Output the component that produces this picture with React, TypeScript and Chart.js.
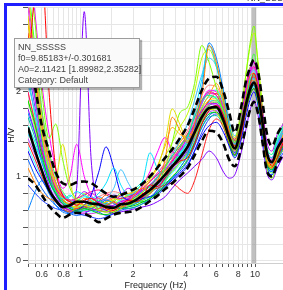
import React, { useEffect, useRef } from 'react';
import { Chart, registerables } from 'chart.js';

Chart.register(...registerables);

// ---- data ----
const FREQ = [0.5, 0.55, 0.6, 0.66, 0.72, 0.79, 0.87, 0.95, 1.05, 1.15, 1.27, 1.4, 1.55, 1.7, 1.88, 2.07, 2.28, 2.5, 2.75, 3.05, 3.35, 3.7, 4.1, 4.5, 4.95, 5.45, 6.0, 6.6, 7.1, 7.65, 8.25, 8.85, 9.4, 9.85, 10.4, 11.0, 11.7, 12.5, 13.4, 14.5];

const MEAN = [1.58, 1.30, 1.07, 0.84, 0.72, 0.64, 0.66, 0.70, 0.70, 0.68, 0.67, 0.64, 0.63, 0.67, 0.68, 0.72, 0.78, 0.84, 0.92, 1.02, 1.12, 1.22, 1.35, 1.52, 1.70, 1.81, 1.82, 1.66, 1.46, 1.33, 1.55, 1.85, 2.04, 2.11, 1.96, 1.65, 1.27, 1.17, 1.33, 1.45];
const STD_UP = [2.45, 2.05, 1.60, 1.30, 1.05, 0.92, 0.90, 0.93, 0.94, 0.92, 0.86, 0.80, 0.76, 0.78, 0.82, 0.86, 0.92, 1.00, 1.10, 1.22, 1.32, 1.45, 1.60, 1.80, 2.02, 2.16, 2.18, 2.00, 1.76, 1.52, 1.78, 2.12, 2.30, 2.38, 2.24, 1.90, 1.50, 1.36, 1.50, 1.62];
const STD_LOW = [0.98, 0.90, 0.78, 0.65, 0.57, 0.51, 0.55, 0.57, 0.56, 0.52, 0.46, 0.50, 0.55, 0.57, 0.58, 0.60, 0.65, 0.71, 0.77, 0.85, 0.92, 1.00, 1.10, 1.25, 1.42, 1.54, 1.52, 1.38, 1.20, 1.12, 1.30, 1.58, 1.80, 1.88, 1.74, 1.42, 1.06, 1.00, 1.15, 1.26];

const W01 = [2.2, 3.2, 3.4, 2.0, 1.1, 0.78, 0.70, 0.66, 0.72, 0.74, 0.68, 0.62, 0.60, 0.66, 0.72, 0.70, 0.76, 0.90, 0.88, 0.98, 1.10, 1.18, 1.22, 1.38, 1.62, 1.78, 1.84, 1.72, 1.50, 1.36, 1.48, 1.80, 2.10, 2.22, 2.06, 1.72, 1.30, 1.12, 1.22, 1.40];
const W02 = [1.10, 0.92, 0.80, 0.74, 0.70, 0.62, 0.58, 0.64, 0.74, 0.70, 0.62, 0.66, 0.70, 0.64, 0.68, 0.80, 0.86, 0.80, 0.94, 1.20, 1.70, 1.55, 1.40, 1.62, 1.96, 2.55, 2.35, 1.90, 1.55, 1.42, 1.60, 1.95, 2.20, 2.22, 1.95, 1.58, 1.18, 1.10, 1.34, 1.40];
const W03 = [2.9, 2.1, 1.5, 1.1, 0.98, 1.38, 0.92, 0.70, 0.66, 0.64, 0.68, 0.62, 0.58, 0.62, 0.70, 0.74, 0.82, 0.96, 1.10, 1.40, 1.80, 1.62, 1.42, 1.48, 1.68, 1.80, 1.76, 1.60, 1.42, 1.30, 1.52, 1.88, 2.06, 2.10, 1.90, 1.60, 1.20, 1.10, 1.26, 1.50];
const W04 = [3.5, 2.8, 2.0, 1.45, 1.62, 1.20, 0.86, 0.74, 0.70, 0.66, 0.60, 0.58, 0.62, 0.68, 0.66, 0.70, 0.72, 0.80, 0.90, 1.10, 1.40, 1.75, 1.82, 2.10, 2.55, 2.35, 2.05, 1.75, 1.50, 1.40, 1.70, 2.20, 2.60, 2.78, 2.30, 1.70, 1.10, 0.98, 1.20, 1.32];
const W05 = [1.9, 1.6, 1.25, 0.95, 0.80, 0.68, 0.62, 0.60, 0.62, 0.60, 0.56, 0.55, 0.58, 0.62, 0.64, 0.66, 0.70, 0.74, 0.80, 0.90, 1.00, 1.08, 1.20, 1.40, 1.62, 1.74, 1.76, 1.62, 1.40, 1.25, 1.48, 1.78, 1.98, 2.04, 1.88, 1.56, 1.16, 1.08, 1.24, 1.36];
const W06 = [2.6, 2.0, 1.45, 1.05, 0.82, 0.70, 0.62, 0.58, 0.60, 0.66, 0.72, 0.66, 0.62, 0.64, 0.70, 0.76, 0.82, 0.88, 0.98, 1.10, 1.24, 1.36, 1.48, 1.70, 1.90, 1.96, 1.92, 1.78, 1.56, 1.40, 1.62, 1.92, 2.14, 2.20, 2.02, 1.70, 1.34, 1.26, 1.46, 1.60];
const W07 = [1.5, 1.35, 1.18, 0.95, 0.80, 0.74, 0.76, 0.82, 0.78, 0.74, 0.80, 0.92, 1.10, 0.90, 0.78, 0.82, 0.96, 1.28, 1.10, 1.00, 1.10, 1.25, 1.45, 1.75, 2.15, 2.55, 2.30, 1.90, 1.56, 1.38, 1.58, 1.90, 2.12, 2.16, 1.98, 1.62, 1.22, 1.16, 1.38, 1.52];
const W08 = [0.60, 0.82, 0.95, 0.80, 0.66, 0.58, 0.56, 0.58, 0.60, 0.62, 0.66, 0.72, 0.68, 0.62, 0.64, 0.68, 0.72, 0.76, 0.82, 0.90, 0.98, 1.10, 1.26, 1.55, 2.05, 2.58, 2.40, 2.00, 1.60, 1.42, 1.60, 1.92, 2.08, 2.10, 1.86, 1.52, 1.12, 1.06, 1.24, 1.38];
const W09 = [1.3, 1.1, 0.96, 0.82, 0.70, 0.62, 0.58, 0.60, 0.66, 0.78, 1.05, 1.35, 1.10, 0.80, 0.72, 0.70, 0.74, 0.76, 0.80, 0.88, 0.96, 1.04, 1.14, 1.30, 1.48, 1.60, 1.64, 1.52, 1.36, 1.22, 1.40, 1.70, 1.92, 2.00, 1.84, 1.52, 1.14, 1.06, 1.20, 1.34];
const W10 = [1.8, 1.5, 1.18, 0.90, 0.72, 0.62, 0.64, 0.86, 2.95, 1.20, 0.68, 0.60, 0.56, 0.58, 0.60, 0.62, 0.64, 0.66, 0.70, 0.76, 0.86, 0.96, 1.04, 1.12, 1.20, 1.30, 1.22, 1.05, 0.98, 1.02, 1.25, 1.55, 1.80, 1.90, 1.72, 1.40, 1.04, 0.96, 1.10, 1.24];
const W11 = [2.4, 1.9, 1.4, 1.0, 0.78, 0.66, 0.60, 0.58, 0.58, 0.60, 0.62, 0.64, 0.66, 0.70, 0.74, 0.78, 0.84, 0.90, 0.98, 1.08, 1.18, 1.30, 1.46, 1.62, 1.78, 1.86, 1.86, 1.72, 1.52, 1.40, 1.68, 2.02, 2.25, 2.35, 2.15, 1.80, 1.40, 1.30, 1.50, 1.62];
const W12 = [3.6, 2.9, 2.1, 1.5, 1.10, 0.86, 1.00, 1.38, 1.00, 0.78, 0.70, 0.66, 0.64, 0.68, 0.72, 0.78, 0.90, 1.06, 1.28, 1.46, 1.30, 1.24, 1.36, 1.62, 1.88, 2.02, 2.00, 1.80, 1.54, 1.38, 1.66, 2.04, 2.28, 2.36, 2.14, 1.74, 1.30, 1.20, 1.36, 1.50];
const W13 = [2.0, 1.62, 1.30, 1.04, 0.86, 0.76, 0.72, 0.74, 0.78, 0.82, 0.84, 0.80, 0.76, 0.74, 0.76, 0.80, 0.86, 0.94, 1.02, 1.12, 1.24, 1.36, 1.50, 1.70, 1.90, 2.00, 1.96, 1.78, 1.52, 1.38, 1.60, 1.92, 2.12, 2.18, 1.98, 1.62, 1.24, 1.16, 1.34, 1.48];
const W14 = [1.4, 1.2, 1.0, 0.82, 0.70, 0.64, 0.60, 0.62, 0.64, 0.62, 0.60, 0.58, 0.60, 0.64, 0.70, 0.76, 0.80, 0.84, 0.86, 0.90, 0.92, 0.85, 0.80, 0.95, 1.25, 1.55, 1.68, 1.58, 1.38, 1.26, 1.44, 1.76, 1.98, 2.04, 1.90, 1.60, 1.20, 1.10, 1.26, 1.40];
const W15 = [2.8, 2.2, 1.6, 1.2, 0.92, 0.76, 0.70, 0.68, 0.66, 0.64, 0.66, 0.70, 0.74, 0.78, 0.80, 0.82, 0.88, 0.98, 1.12, 1.36, 1.58, 1.50, 1.46, 1.60, 1.82, 1.96, 2.10, 1.86, 1.52, 1.36, 1.58, 1.90, 2.10, 2.14, 1.96, 1.62, 1.22, 1.14, 1.30, 1.46];
const W16 = [3.2, 2.4, 1.7, 1.2, 0.90, 0.74, 0.66, 0.62, 0.60, 0.62, 0.66, 0.70, 0.72, 0.74, 0.78, 0.84, 0.92, 1.00, 1.10, 1.24, 1.40, 1.58, 1.74, 2.00, 2.40, 2.50, 2.30, 1.96, 1.62, 1.46, 1.74, 2.20, 2.55, 2.70, 2.36, 1.86, 1.28, 1.10, 1.24, 1.40];
const W17 = [1.7, 1.45, 1.2, 0.98, 0.82, 0.70, 0.64, 0.62, 0.64, 0.68, 0.70, 0.68, 0.64, 0.62, 0.62, 0.64, 0.68, 0.74, 0.80, 0.88, 0.98, 1.10, 1.24, 1.40, 1.58, 1.70, 1.72, 1.58, 1.38, 1.24, 1.46, 1.78, 2.00, 2.08, 1.92, 1.58, 1.18, 1.08, 1.22, 1.36];
const W18 = [2.1, 1.75, 1.42, 1.12, 0.92, 0.80, 0.72, 0.68, 0.66, 0.64, 0.66, 0.74, 0.86, 1.08, 0.92, 0.80, 0.82, 0.90, 1.00, 1.12, 1.26, 1.42, 1.62, 1.90, 2.20, 2.40, 2.30, 2.00, 1.66, 1.48, 1.68, 1.98, 2.20, 2.26, 2.06, 1.70, 1.32, 1.22, 1.40, 1.56];
const W19 = [0.9, 0.8, 0.72, 0.66, 0.62, 0.60, 0.58, 0.56, 0.54, 0.52, 0.50, 0.52, 0.56, 0.60, 0.62, 0.64, 0.68, 0.72, 0.78, 0.86, 0.94, 1.02, 1.12, 1.30, 1.52, 1.68, 1.74, 1.62, 1.42, 1.28, 1.50, 1.82, 2.02, 2.08, 1.90, 1.54, 1.12, 1.02, 1.16, 1.28];
const W20 = [2.3, 1.8, 1.34, 1.0, 0.80, 0.68, 0.62, 0.60, 0.62, 0.66, 0.70, 0.74, 0.78, 0.76, 0.72, 0.70, 0.74, 0.80, 0.88, 0.98, 1.08, 1.18, 1.30, 1.48, 1.68, 1.80, 1.84, 1.70, 1.48, 1.34, 1.56, 1.88, 2.08, 2.14, 1.98, 1.64, 1.26, 1.18, 1.36, 1.50];
const W21 = [3.0, 2.3, 1.7, 1.2, 0.88, 0.70, 0.62, 0.58, 0.56, 0.56, 0.58, 0.62, 0.66, 0.70, 0.72, 0.76, 0.84, 0.94, 1.04, 1.14, 1.22, 1.32, 1.46, 1.66, 1.88, 1.98, 1.96, 1.80, 1.56, 1.42, 1.66, 2.00, 2.22, 2.28, 2.08, 1.70, 1.28, 1.18, 1.34, 1.48];
const W22 = [3.3, 2.5, 1.8, 1.3, 1.0, 0.82, 0.72, 0.66, 0.64, 0.62, 0.60, 0.64, 0.72, 0.80, 0.76, 0.70, 0.70, 0.74, 0.82, 0.94, 1.10, 1.32, 1.50, 1.60, 1.74, 1.84, 1.88, 1.74, 1.50, 1.36, 1.60, 1.96, 2.30, 2.45, 2.16, 1.70, 1.18, 1.04, 1.22, 1.38];
const W23 = [1.6, 1.4, 1.16, 0.94, 0.78, 0.68, 0.66, 0.70, 0.76, 0.72, 0.66, 0.64, 0.66, 0.72, 0.78, 0.86, 0.94, 0.98, 1.02, 1.08, 1.16, 1.26, 1.40, 1.62, 1.86, 2.00, 2.02, 1.84, 1.56, 1.40, 1.62, 1.94, 2.16, 2.22, 2.04, 1.68, 1.30, 1.22, 1.42, 1.58];
const W24 = [2.5, 1.95, 1.5, 1.12, 0.88, 0.74, 0.66, 0.62, 0.62, 0.64, 0.68, 0.72, 0.74, 0.72, 0.70, 0.72, 0.78, 0.86, 0.96, 1.08, 1.20, 1.30, 1.40, 1.56, 1.74, 1.86, 1.88, 1.72, 1.48, 1.34, 1.56, 1.88, 2.10, 2.16, 1.98, 1.62, 1.22, 1.14, 1.32, 1.46];
const W25 = [2.7, 2.0, 1.5, 1.1, 0.85, 0.72, 0.68, 0.72, 0.66, 0.62, 0.70, 0.78, 0.70, 0.64, 0.72, 0.82, 0.76, 0.86, 1.00, 1.06, 1.18, 1.34, 1.46, 1.58, 1.76, 1.90, 1.98, 1.82, 1.56, 1.44, 1.70, 2.08, 2.30, 2.36, 2.10, 1.68, 1.24, 1.18, 1.40, 1.56];
const W26 = [1.9, 1.55, 1.22, 1.06, 0.90, 0.74, 0.66, 0.70, 0.80, 0.72, 0.64, 0.60, 0.66, 0.74, 0.70, 0.66, 0.72, 0.82, 0.92, 1.00, 1.06, 1.16, 1.30, 1.50, 1.72, 1.86, 1.90, 1.76, 1.50, 1.34, 1.52, 1.84, 2.06, 2.12, 1.94, 1.60, 1.20, 1.12, 1.30, 1.46];
const W27 = [2.2, 1.7, 1.30, 0.98, 0.80, 0.72, 0.78, 0.70, 0.62, 0.60, 0.64, 0.70, 0.76, 0.70, 0.66, 0.74, 0.84, 0.88, 0.86, 0.96, 1.12, 1.28, 1.40, 1.56, 1.80, 1.94, 1.94, 1.76, 1.52, 1.38, 1.58, 1.90, 2.12, 2.18, 2.00, 1.64, 1.26, 1.18, 1.36, 1.52];
const W28 = [1.2, 1.0, 0.86, 0.74, 0.66, 0.60, 0.56, 0.54, 0.56, 0.60, 0.58, 0.54, 0.56, 0.62, 0.68, 0.72, 0.70, 0.74, 0.84, 0.92, 0.98, 1.06, 1.18, 1.36, 1.58, 1.72, 1.76, 1.62, 1.40, 1.26, 1.46, 1.78, 1.98, 2.04, 1.86, 1.50, 1.10, 1.02, 1.18, 1.32];
const W29 = [2.6, 2.1, 1.6, 1.18, 0.90, 0.76, 0.70, 0.74, 0.82, 0.76, 0.68, 0.66, 0.70, 0.78, 0.86, 0.80, 0.74, 0.80, 0.90, 1.00, 1.10, 1.20, 1.32, 1.50, 1.72, 1.84, 1.86, 1.70, 1.46, 1.30, 1.50, 1.84, 2.06, 2.12, 1.94, 1.58, 1.18, 1.10, 1.28, 1.42];
const W30 = [3.1, 2.4, 1.75, 1.25, 0.94, 0.78, 0.70, 0.66, 0.70, 0.80, 0.74, 0.68, 0.64, 0.66, 0.74, 0.86, 0.80, 0.76, 0.84, 0.98, 1.16, 1.30, 1.42, 1.62, 1.86, 1.98, 1.98, 1.80, 1.54, 1.40, 1.62, 1.98, 2.22, 2.30, 2.10, 1.72, 1.32, 1.22, 1.38, 1.52];
const W31 = [2.0, 1.65, 1.32, 1.02, 0.84, 0.72, 0.66, 0.64, 0.66, 0.70, 0.74, 0.72, 0.68, 0.66, 0.70, 0.78, 0.90, 1.02, 0.96, 1.04, 1.20, 1.40, 1.50, 1.62, 1.80, 1.90, 1.92, 1.78, 1.54, 1.38, 1.58, 1.92, 2.14, 2.20, 2.02, 1.66, 1.26, 1.16, 1.32, 1.48];
const W32 = [1.75, 1.5, 1.26, 1.02, 0.84, 0.72, 0.64, 0.60, 0.62, 0.68, 0.76, 0.70, 0.64, 0.66, 0.74, 0.80, 0.84, 0.88, 0.94, 1.04, 1.14, 1.24, 1.36, 1.54, 1.76, 1.88, 1.90, 1.74, 1.50, 1.36, 1.56, 1.88, 2.10, 2.16, 1.98, 1.62, 1.22, 1.14, 1.32, 1.46];
const W33 = [2.4, 1.95, 1.48, 1.10, 0.86, 0.72, 0.66, 0.64, 0.62, 0.60, 0.62, 0.66, 0.70, 0.68, 0.66, 0.68, 0.74, 0.82, 0.90, 0.98, 1.06, 1.16, 1.28, 1.46, 1.66, 1.78, 1.80, 1.66, 1.44, 1.30, 1.52, 1.84, 2.06, 2.12, 1.96, 1.62, 1.22, 1.12, 1.28, 1.42];
const W34 = [1.45, 1.25, 1.06, 0.88, 0.74, 0.64, 0.60, 0.60, 0.64, 0.70, 0.66, 0.60, 0.58, 0.62, 0.66, 0.70, 0.76, 0.82, 0.88, 0.96, 1.06, 1.16, 1.28, 1.44, 1.64, 1.76, 1.78, 1.64, 1.42, 1.28, 1.48, 1.80, 2.02, 2.08, 1.92, 1.58, 1.18, 1.10, 1.26, 1.40];
const W35 = [2.9, 2.2, 1.62, 1.18, 0.92, 0.78, 0.72, 0.70, 0.70, 0.72, 0.76, 0.80, 0.82, 0.80, 0.78, 0.80, 0.86, 0.94, 1.04, 1.16, 1.28, 1.40, 1.54, 1.74, 1.96, 2.08, 2.06, 1.86, 1.58, 1.44, 1.66, 2.00, 2.24, 2.30, 2.10, 1.72, 1.30, 1.22, 1.40, 1.54];
const W36 = [1.35, 1.15, 0.98, 0.84, 0.74, 0.68, 0.64, 0.62, 0.60, 0.58, 0.58, 0.60, 0.64, 0.68, 0.72, 0.74, 0.76, 0.80, 0.86, 0.94, 1.04, 1.14, 1.26, 1.42, 1.62, 1.74, 1.76, 1.62, 1.42, 1.28, 1.48, 1.80, 2.00, 2.06, 1.90, 1.56, 1.16, 1.08, 1.24, 1.38];

const WINDOWS = [W01, W02, W03, W04, W05, W06, W07, W08, W09, W10, W11, W12, W13, W14, W15, W16, W17, W18, W19, W20, W21, W22, W23, W24, W25, W26, W27, W28, W29, W30, W31, W32, W33, W34, W35, W36];
const WINDOW_COLORS = ['#ff0000', '#ff8000', '#e0e000', '#80ff00', '#00d000', '#00ff80', '#00e0ff', '#0080ff', '#0000ff', '#8000ff', '#c000ff', '#ff00ff', '#ff0080', '#ff2020', '#ffb000', '#c0ff00', '#00c0a0', '#40c0ff', '#2040ff', '#6040ff', '#e040e0', '#40ff40', '#00ffe0', '#ff60a0', '#ff4000', '#a0ff40', '#00ffc0', '#0060ff', '#a000ff', '#ff00c0', '#ffd000', '#00a0ff', '#60ff00', '#c040ff', '#ff8080', '#40ffff'];

const X_TICKS = [0.5, 0.55, 0.6, 0.65, 0.7, 0.75, 0.8, 0.85, 0.9, 0.95, 1, 1.5, 2, 2.5, 3, 3.5, 4, 4.5, 5, 5.5, 6, 6.5, 7, 7.5, 8, 8.5, 9, 9.5, 10];
const X_LABELS = [0.6, 0.8, 1, 2, 4, 6, 8, 10];
const Y_TICKS = [0, 0.2, 0.4, 0.6, 0.8, 1, 1.2, 1.4, 1.6, 1.8, 2, 2.2, 2.4, 2.6, 2.8, 3];
const Y_LABELS = [0, 1, 2];

const STATION = 'NN_SSSSS';
const F0 = 9.85183;
const F0_STD = 0.301681;
const A0 = 2.11421;
const A0_LOW = 1.89982;
const A0_HIGH = 2.35282;
const CATEGORY = 'Default';

const X_MIN = 0.5;
const X_MAX = 14.45;
const Y_MIN = -0.024;
const Y_MAX = 3.0;

const toPoints = (arr: number[]) => FREQ.map((f, i) => ({ x: f, y: arr[i] }));

const bandPlugin = {
  id: 'f0band',
  beforeDatasetsDraw(chart: any) {
    const { ctx, chartArea, scales } = chart;
    const x = scales.x;
    const x1 = x.getPixelForValue(F0 - F0_STD);
    const x2 = x.getPixelForValue(F0 + F0_STD);
    ctx.save();
    ctx.fillStyle = 'rgba(150,150,150,0.6)';
    ctx.fillRect(x1, chartArea.top, x2 - x1, chartArea.bottom - chartArea.top);
    ctx.restore();
  },
};

const FONT = "'Liberation Sans', Arial, sans-serif";

export default function App() {
  const ref = useRef<HTMLCanvasElement>(null);

  useEffect(() => {
    if (!ref.current) return;
    const blackDatasets = [
      { data: toPoints(MEAN), borderColor: '#000', borderWidth: 2.6, borderDash: [] as number[] },
      { data: toPoints(STD_UP), borderColor: '#000', borderWidth: 2.6, borderDash: [7, 4] },
      { data: toPoints(STD_LOW), borderColor: '#000', borderWidth: 2.6, borderDash: [7, 4] },
    ];
    const windowDatasets = WINDOWS.map((w, i) => ({
      data: toPoints(w),
      borderColor: WINDOW_COLORS[i],
      borderWidth: 1,
      borderDash: [] as number[],
    }));
    const datasets = [...blackDatasets, ...windowDatasets].map((d) => ({
      ...d,
      pointRadius: 0,
      fill: false,
      cubicInterpolationMode: 'monotone' as const,
    }));

    const chart = new Chart(ref.current, {
      type: 'line',
      data: { datasets },
      plugins: [bandPlugin],
      options: {
        animation: false,
        responsive: false,
        devicePixelRatio: 1,
        parsing: false as any,
        layout: { padding: { top: 7, right: 0, left: 0, bottom: 0 } },
        plugins: { legend: { display: false }, tooltip: { enabled: false }, title: { display: false } },
        scales: {
          x: {
            type: 'logarithmic',
            min: X_MIN,
            max: X_MAX,
            afterBuildTicks: (scale: any) => {
              scale.ticks = X_TICKS.map((v) => ({ value: v }));
            },
            afterFit: (scale: any) => {
              scale.height = 27;
            },
            ticks: {
              autoSkip: false,
              maxRotation: 0,
              minRotation: 0,
              padding: 2,
              color: '#333',
              font: { family: FONT, size: 9 },
              callback: (v: any) => (X_LABELS.includes(Number(v)) ? String(v) : ''),
            },
            grid: {
              color: '#e6e6e6',
              tickColor: '#555',
              tickLength: 4,
              drawOnChartArea: true,
            },
            border: { color: '#cfcfcf' },
            title: {
              display: true,
              text: 'Frequency (Hz)',
              color: '#222',
              font: { family: FONT, size: 9 },
              padding: { top: 0, bottom: -1 },
            },
          },
          y: {
            type: 'linear',
            min: Y_MIN,
            max: Y_MAX,
            afterBuildTicks: (scale: any) => {
              scale.ticks = Y_TICKS.map((v) => ({ value: v }));
            },
            afterFit: (scale: any) => {
              scale.width = 28;
            },
            ticks: {
              autoSkip: false,
              padding: 2,
              color: '#333',
              font: { family: FONT, size: 9 },
              callback: (v: any) => {
                const r = Math.round(Number(v) * 10) / 10;
                return Y_LABELS.includes(r) ? String(r) : '';
              },
            },
            grid: {
              color: '#e6e6e6',
              tickColor: '#555',
              tickLength: 5,
              drawOnChartArea: true,
            },
            border: { color: '#d6d6d6' },
            title: {
              display: true,
              text: 'H/V',
              color: '#222',
              font: { family: FONT, size: 9 },
              padding: { top: 6, bottom: 0 },
            },
          },
        },
      },
    } as any);
    return () => chart.destroy();
  }, []);

  return (
    <div style={{ position: 'absolute', left: 0, top: 0, width: 283, height: 290, overflow: 'hidden', background: '#fff' }}>
      <canvas ref={ref} width={283} height={290} style={{ display: 'block', width: 283, height: 290 }} />
      <div style={{ position: 'absolute', left: 4, top: 3, width: 279, height: 3, background: '#1e1eff' }} />
      <div style={{ position: 'absolute', left: 4, top: 3, width: 3, height: 287, background: '#1e1eff' }} />
      <div
        style={{
          position: 'absolute',
          left: 247,
          top: -7,
          fontFamily: FONT,
          fontSize: 9,
          color: '#333',
          whiteSpace: 'nowrap',
        }}
      >
        {STATION}
      </div>
      <div
        style={{
          position: 'absolute',
          left: 14,
          top: 38,
          width: 126,
          height: 50,
          boxSizing: 'border-box',
          background: '#fafafa',
          border: '1px solid #9c9c9c',
          boxShadow: '2px 2px 1px rgba(0,0,0,0.3)',
          fontFamily: FONT,
          fontSize: 9,
          lineHeight: '11px',
          color: '#444',
          padding: '3px 0 0 3px',
          whiteSpace: 'nowrap',
        }}
      >
        <div>{STATION}</div>
        <div>{`f0=${F0}+/-${F0_STD}`}</div>
        <div>{`A0=${A0} [${A0_LOW},${A0_HIGH}]`}</div>
        <div>{`Category: ${CATEGORY}`}</div>
      </div>
    </div>
  );
}
